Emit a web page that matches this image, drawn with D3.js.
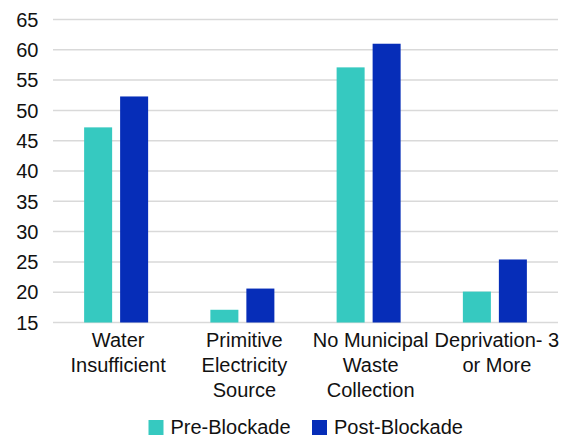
<!DOCTYPE html>
<html><head><meta charset="utf-8">
<script src="https://cdn.jsdelivr.net/npm/d3@7"></script>
<style>body{margin:0;background:#fff}svg{display:block}text{font-family:"Liberation Sans",Arial,sans-serif;fill:#111}</style>
</head><body><svg id="c" width="571" height="440"></svg>
<script>
const categories = [["Water","Insufficient"],["Primitive","Electricity","Source"],["No Municipal","Waste","Collection"],["Deprivation- 3","or More"]];
const seriesNames = ["Pre-Blockade","Post-Blockade"];
const preBlockade = [47.2, 17.1, 57.1, 20.1];
const postBlockade = [52.3, 20.6, 61.0, 25.4];
const yTicks = [15,20,25,30,35,40,45,50,55,60,65];
const colors = ["#36C9C0","#062DB8"];

(function(){
const svg = d3.select("#c");
const mLeft = 53, mRight = 558, mTop = 19.5, mBottom = 322.5;
const y = d3.scaleLinear().domain([15,65]).range([mBottom, mTop]);
const idx = d3.range(categories.length);
const x0 = d3.scaleBand().domain(idx).range([mLeft, mRight]).paddingInner(0.493).paddingOuter(0.2465);
const x1 = d3.scaleBand().domain(seriesNames).range([0, x0.bandwidth()]).paddingInner(0.222);

// gridlines
svg.append("g").selectAll("line").data(yTicks).join("line")
  .attr("x1", mLeft).attr("x2", mRight)
  .attr("y1", d => y(d)).attr("y2", d => y(d))
  .attr("stroke", "#d9d9d9").attr("stroke-width", 1.5);

// y tick labels
svg.append("g").selectAll("text").data(yTicks).join("text")
  .attr("x", 38.5).attr("y", d => y(d)).attr("dy", "0.36em")
  .attr("text-anchor", "end").attr("font-size", 20).text(d => d);

// bars
const data = [preBlockade, postBlockade];
seriesNames.forEach((s, si) => {
  svg.append("g").selectAll("rect").data(idx).join("rect")
    .attr("x", i => x0(i) + x1(s))
    .attr("width", x1.bandwidth())
    .attr("y", i => y(data[si][i]))
    .attr("height", i => y(15) - y(data[si][i]))
    .attr("fill", colors[si]);
});

// x labels
const xl = svg.append("g");
idx.forEach(i => {
  const cx = x0(i) + x0.bandwidth()/2 + 2;
  const t = xl.append("text").attr("text-anchor","middle").attr("font-size",20)
    .attr("x", cx).attr("y", 347);
  categories[i].forEach((line, li) => {
    t.append("tspan").attr("x", cx).attr("dy", li === 0 ? 0 : 25).text(line);
  });
});

// legend
const legendX = [148.5, 312];
seriesNames.forEach((s, si) => {
  svg.append("rect").attr("x", legendX[si]).attr("y", 420).attr("width", 15).attr("height", 15).attr("fill", colors[si]);
  svg.append("text").attr("x", legendX[si] + 22).attr("y", 434).attr("font-size", 20).text(s);
});
})();
</script></body></html>
